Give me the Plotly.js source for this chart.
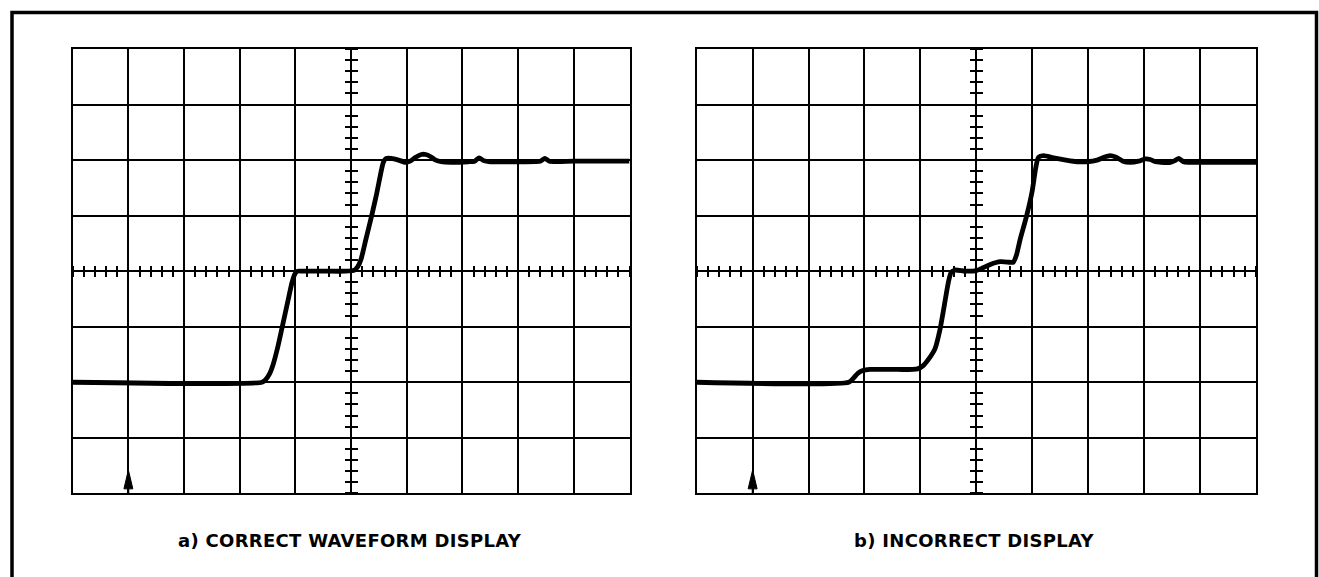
<!DOCTYPE html>
<html>
<head>
<meta charset="utf-8">
<script src="https://cdn.plot.ly/plotly-3.0.1.min.js"></script>
<style>
  html, body { margin: 0; padding: 0; background: #fff; }
  #chart { width: 1319px; height: 577px; }
  .annotation-text { letter-spacing: 0.3px; }
</style>
</head>
<body>
<div id="chart"></div>
<script>
// ---- Data (graticule divisions: x 0..10, y 0..8) ----
const captionA = "a) CORRECT WAVEFORM DISPLAY";
const captionB = "b) INCORRECT DISPLAY";

// a) correct waveform
const waveAx = [0, 3.40, 3.46, 3.53, 3.60, 3.68, 3.76, 3.86, 3.94, 3.99, 4.04, 4.12, 4.5, 4.9, 5.06, 5.12, 5.18, 5.26, 5.37, 5.46, 5.53, 5.58, 5.63, 5.72, 5.85, 5.98, 6.06, 6.16, 6.26, 6.34, 6.43, 6.52, 6.62, 6.8, 7.1, 7.22, 7.30, 7.38, 7.5, 8.0, 8.4, 8.48, 8.56, 9.0, 10];
const waveAy = [2.0, 2.0, 2.04, 2.14, 2.32, 2.62, 2.98, 3.44, 3.8, 3.95, 4.0, 4.0, 4.0, 4.0, 4.02, 4.08, 4.22, 4.55, 5.0, 5.4, 5.75, 5.96, 6.03, 6.03, 6.0, 5.96, 5.98, 6.05, 6.1, 6.1, 6.06, 6.0, 5.97, 5.96, 5.97, 5.98, 6.04, 5.99, 5.97, 5.97, 5.98, 6.03, 5.98, 5.98, 5.98];

// b) incorrect waveform
const waveBx = [0, 2.72, 2.80, 2.88, 2.97, 3.1, 3.5, 3.95, 4.05, 4.15, 4.26, 4.35, 4.43, 4.50, 4.55, 4.62, 4.8, 5.0, 5.12, 5.25, 5.43, 5.6, 5.66, 5.72, 5.78, 5.9, 6.0, 6.06, 6.11, 6.2, 6.38, 6.6, 6.8, 6.98, 7.16, 7.28, 7.39, 7.5, 7.62, 7.75, 7.9, 8.02, 8.11, 8.2, 8.3, 8.47, 8.55, 8.62, 8.7, 8.8, 9.0, 10];
const waveBy = [2.0, 2.0, 2.07, 2.16, 2.21, 2.23, 2.23, 2.24, 2.3, 2.42, 2.6, 2.95, 3.4, 3.8, 3.98, 4.02, 4.0, 4.01, 4.06, 4.12, 4.17, 4.16, 4.16, 4.3, 4.56, 5.0, 5.45, 5.85, 6.05, 6.08, 6.04, 6.0, 5.97, 5.97, 6.0, 6.05, 6.08, 6.05, 5.98, 5.96, 5.98, 6.02, 6.01, 5.97, 5.96, 5.96, 5.99, 6.03, 5.97, 5.96, 5.96, 5.96];

// trigger point markers (division index at bottom edge)
const triggerA = 1;
const triggerB = 1;

// ---- Layout geometry (paper fractions) ----
const W = 1319, H = 577;
const yDom = [1 - 493.3 / H, 1 - 49 / H];
const xDomA = [72.7 / W, 629.5 / W];
const xDomB = [696.7 / W, 1256 / W];
const mid = d => (d[0] + d[1]) / 2;

const gridAxis = (range, domain, anchor) => ({
  range: range, domain: domain, anchor: anchor,
  tick0: 0, dtick: 1,
  showgrid: true, gridcolor: '#000', gridwidth: 2,
  showline: true, linecolor: '#000', linewidth: 2, mirror: true,
  zeroline: false, showticklabels: false, ticks: '',
  fixedrange: true
});

const centerAxis = (range, overlay, pos, side, len) => ({
  range: range, overlaying: overlay, anchor: 'free', position: pos, side: side,
  tick0: 0, dtick: 0.2, ticks: 'outside', ticklen: len, tickwidth: 2, tickcolor: '#000',
  showgrid: false, showline: false, zeroline: false, showticklabels: false,
  fixedrange: true
});

const lineStyle = { color: '#000', width: 4.8, shape: 'spline', smoothing: 0.6 };

function arrowTraces(t, xa, ya) {
  return [
    { x: [t, t], y: [0, 0.12], xaxis: xa, yaxis: ya, mode: 'lines',
      line: { color: '#000', width: 1.8 }, hoverinfo: 'skip' },
    { x: [t - 0.08, t, t + 0.08, t - 0.08], y: [0.08, 0.42, 0.08, 0.08], xaxis: xa, yaxis: ya,
      mode: 'lines', fill: 'toself', fillcolor: '#000',
      line: { color: '#000', width: 1 }, hoverinfo: 'skip' }
  ];
}

// invisible anchor traces so the centre-tick overlay axes get drawn
function holder(xa, ya) {
  return { x: [0], y: [0], xaxis: xa, yaxis: ya, mode: 'markers',
           marker: { opacity: 0, size: 1 }, hoverinfo: 'skip' };
}

const traces = [
  holder('x3', 'y3'), holder('x4', 'y4'), holder('x5', 'y5'), holder('x6', 'y6'),
  { x: waveAx, y: waveAy, xaxis: 'x', yaxis: 'y', mode: 'lines', line: lineStyle, hoverinfo: 'skip' },
  { x: waveBx, y: waveBy, xaxis: 'x2', yaxis: 'y2', mode: 'lines', line: lineStyle, hoverinfo: 'skip' },
  ...arrowTraces(triggerA, 'x', 'y'),
  ...arrowTraces(triggerB, 'x2', 'y2')
];

const layout = {
  width: W, height: H,
  margin: { l: 0, r: 0, t: 0, b: 0, pad: 0 },
  paper_bgcolor: '#fff', plot_bgcolor: 'rgba(0,0,0,0)',
  showlegend: false,
  xaxis: gridAxis([0, 10], xDomA, 'y'),
  yaxis: gridAxis([0, 8], yDom, 'x'),
  xaxis2: gridAxis([0, 10], xDomB, 'y2'),
  yaxis2: gridAxis([0, 8], yDom, 'x2'),
  // center graticule ticks, left panel
  xaxis3: centerAxis([0, 10], 'x', mid(yDom), 'bottom', 5),
  xaxis4: centerAxis([0, 10], 'x', mid(yDom), 'top', 5),
  yaxis3: centerAxis([0, 8], 'y', mid(xDomA), 'left', 6),
  yaxis4: centerAxis([0, 8], 'y', mid(xDomA), 'right', 6),
  // center graticule ticks, right panel
  xaxis5: centerAxis([0, 10], 'x2', mid(yDom), 'bottom', 5),
  xaxis6: centerAxis([0, 10], 'x2', mid(yDom), 'top', 5),
  yaxis5: centerAxis([0, 8], 'y2', mid(xDomB), 'left', 6),
  yaxis6: centerAxis([0, 8], 'y2', mid(xDomB), 'right', 6),
  shapes: [
    { type: 'rect', xref: 'paper', yref: 'paper',
      x0: 12 / W, x1: 1316.5 / W, y0: -0.1, y1: 1 - 12.5 / H,
      line: { color: '#000', width: 3.5 }, fillcolor: 'rgba(0,0,0,0)' }
  ],
  annotations: [
    { text: captionA, xref: 'paper', yref: 'paper', x: 350 / W, y: 1 - 540 / H,
      showarrow: false, xanchor: 'center', yanchor: 'middle',
      font: { family: 'DejaVu Sans, Arial, sans-serif', size: 18, color: '#000', weight: 'bold' } },
    { text: captionB, xref: 'paper', yref: 'paper', x: 974 / W, y: 1 - 540 / H,
      showarrow: false, xanchor: 'center', yanchor: 'middle',
      font: { family: 'DejaVu Sans, Arial, sans-serif', size: 18, color: '#000', weight: 'bold' } }
  ]
};

Plotly.newPlot('chart', traces, layout, { staticPlot: true, displayModeBar: false });
</script>
</body>
</html>
